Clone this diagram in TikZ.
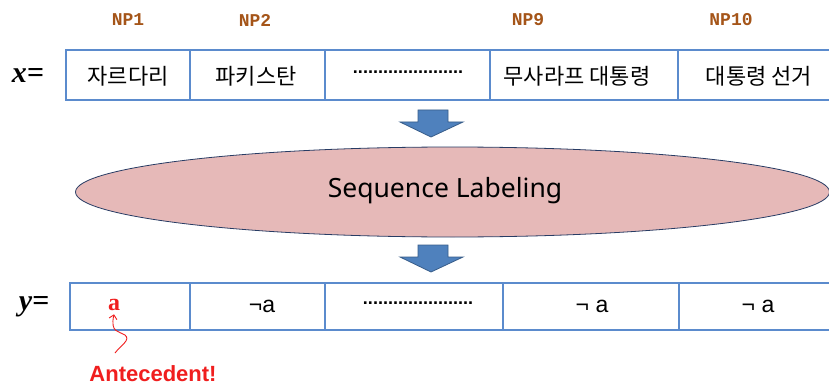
\documentclass[tikz,border=0pt]{standalone}
\usepackage{fontspec}
\setmainfont{Liberation Serif}
\newfontfamily\krfont{Noto Sans CJK KR}
\newfontfamily\npfont{Liberation Mono}
\newfontfamily\labfont{Noto Sans}
\newfontfamily\negfont{Liberation Sans}
\usetikzlibrary{calc,shapes.geometric,arrows.meta}
\definecolor{gridblue}{RGB}{91,139,205}
\definecolor{arrowblue}{RGB}{79,129,189}
\definecolor{arrowedge}{RGB}{56,93,138}
\definecolor{ellfill}{RGB}{230,185,184}
\definecolor{elledge}{RGB}{40,60,100}
\definecolor{npbrown}{RGB}{165,85,25}
\definecolor{antred}{RGB}{240,30,30}
\tikzset{
  cell/.style={draw=gridblue, line width=1.3pt, rectangle, inner sep=0pt, outer sep=0pt, anchor=center},
  krtext/.style={font=\krfont\fontsize{22}{24}\selectfont},
  nptext/.style={text=npbrown, font=\npfont\bfseries\fontsize{18}{20}\selectfont},
  vartext/.style={font=\bfseries\itshape\fontsize{30}{32}\selectfont},
  negtext/.style={font=\negfont\fontsize{23}{25}\selectfont},
  dottext/.style={font=\negfont\bfseries\fontsize{18}{20}\selectfont},
  blockarrow/.style={fill=arrowblue, draw=arrowedge, line width=0.8pt, line join=miter},
}
\begin{document}
\begin{tikzpicture}[x=1pt,y=-1pt]
\clip (0,0) rectangle (829,385);
\fill[white] (0,0) rectangle (829,385);

% NP labels
\node[nptext] (np1) at (128,20) {NP1};
\node[nptext] (np2) at (255,20) {NP2};
\node[nptext] (np9) at (528,20) {NP9};
\node[nptext] (np10) at (731,20) {NP10};

% x row
\node[vartext] (xeq) at (28,75) {x=};
\node[cell, minimum width=124pt, minimum height=50pt] (x1) at (128,75) {};
\node[cell, minimum width=135pt, minimum height=50pt] (x2) at (257.5,75) {};
\node[cell, minimum width=165pt, minimum height=50pt] (x3) at (407.5,75) {};
\node[cell, minimum width=188pt, minimum height=50pt] (x4) at (584,75) {};
\node[cell, minimum width=156pt, minimum height=50pt] (x5) at (756,75) {};
\node[krtext] (t1) at (128,76) {자르다리};
\node[krtext] (t2) at (256,76) {파키스탄};
\node[dottext] (t3) at (408,72) {......................};
\node[krtext] (t4) at (577,76) {무사라프 대통령};
\node[krtext] (t5) at (759,76) {대통령 선거};

% arrow 1
\path[blockarrow] (418,110) -- (448,110) -- (448,122) -- (463,122) -- (431,137) -- (400,122) -- (418,122) -- cycle;

% ellipse
\node[draw=elledge, fill=ellfill, line width=0.8pt, ellipse, minimum width=754pt, minimum height=90pt, inner sep=0pt] (seq) at (452.5,192) {};
\node[font=\labfont\fontsize{26.5}{28}\selectfont] (seqtext) at (445,191) {Sequence Labeling};

% arrow 2
\path[blockarrow] (418,245) -- (448,245) -- (448,257) -- (463,257) -- (431,272) -- (400,257) -- (418,257) -- cycle;

% y row
\node[vartext] (yeq) at (34,307) {y=};
\node[cell, minimum width=120pt, minimum height=47pt] (y1) at (130,306.5) {};
\node[cell, minimum width=135pt, minimum height=47pt] (y2) at (257.5,306.5) {};
\node[cell, minimum width=178pt, minimum height=47pt] (y3) at (414,306.5) {};
\node[cell, minimum width=176pt, minimum height=47pt] (y4) at (591,306.5) {};
\node[cell, minimum width=153pt, minimum height=47pt] (y5) at (755.5,306.5) {};
\node[text=antred, font=\bfseries\fontsize{24}{26}\selectfont] (ya) at (114,305) {a};
\node[negtext] (yn2) at (262,306) {¬a};
\node[dottext] (yd) at (418,303) {......................};
\node[negtext] (yn4) at (592,306) {¬ a};
\node[negtext] (yn5) at (758,306) {¬ a};

% antecedent
\node[text=antred, font=\negfont\bfseries\fontsize{22}{24}\selectfont] (ante) at (153,374) {Antecedent!};
\coordinate (curvestart) at (115,353);
\draw[antred, line width=0.9pt, -{Straight Barb[length=4pt]}] (curvestart) .. controls (121,345) and (131,340) .. (125,335) .. controls (119,331) and (110,333) .. (ya.south);
\end{tikzpicture}
\end{document}
